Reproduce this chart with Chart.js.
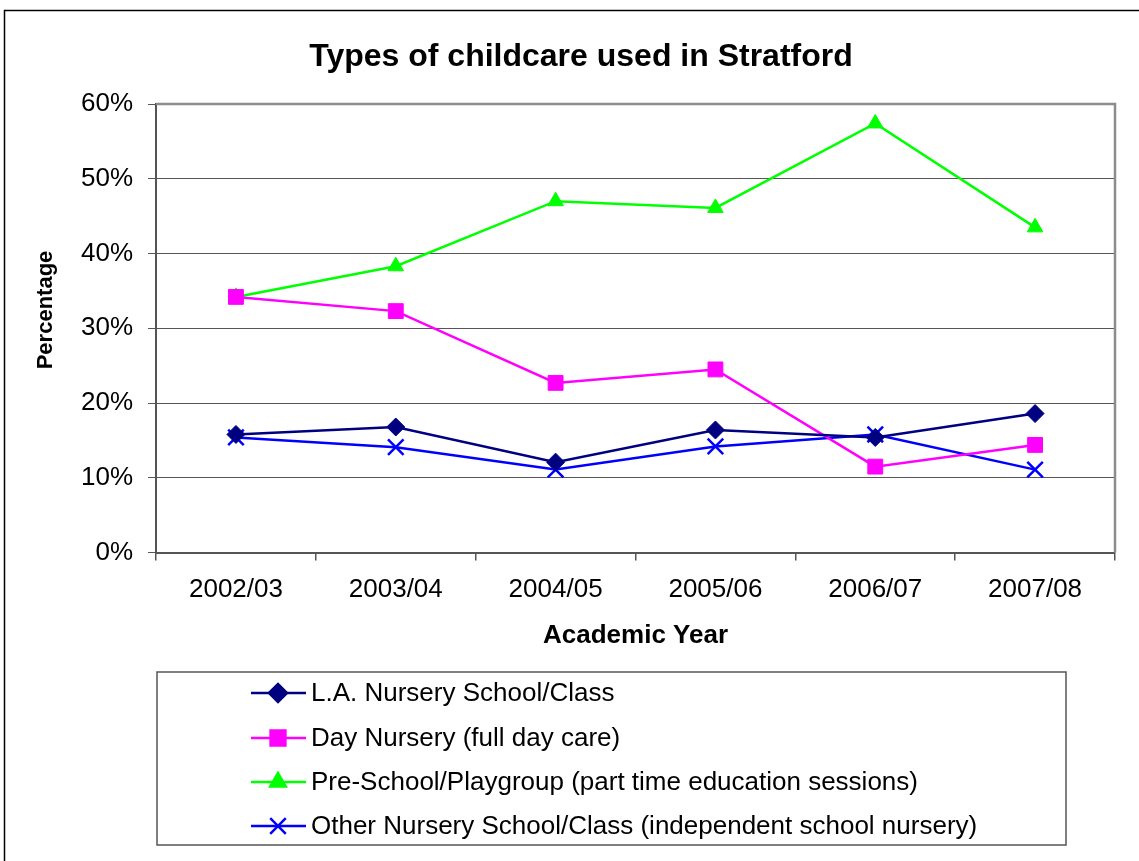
<!DOCTYPE html>
<html>
<head>
<meta charset="utf-8">
<title>Types of childcare used in Stratford</title>
<script src="https://cdn.jsdelivr.net/npm/chart.js@4"></script>
<style>
    html, body { margin: 0; padding: 0; background: #fff; }
    #wrap { width: 1139px; height: 861px; position: relative; }
</style>
</head>
<body>
<div id="wrap"><canvas id="chart"></canvas></div>
<script>
// Chart data
const years = ['2002/03', '2003/04', '2004/05', '2005/06', '2006/07', '2007/08'];
const laNursery = [15.8, 16.8, 12.1, 16.4, 15.4, 18.6];
const dayNursery = [34.2, 32.3, 22.7, 24.5, 11.5, 14.4];
const preSchool = [34.2, 38.3, 47.0, 46.1, 57.4, 43.5];
const otherNursery = [15.4, 14.1, 11.1, 14.2, 15.8, 11.1];
const yTicks = [0, 10, 20, 30, 40, 50, 60];

const chartTitle = 'Types of childcare used in Stratford';
const yTitle = 'Percentage';

const FONT = "'Liberation Sans', Arial, sans-serif";

/**
 * Outer frame, titles, plot border (top/right) and the boxed legend under the chart
 */
const decorPlugin = {
    id: 'decor',
    beforeDraw(chart) {
        const ctx = chart.ctx;
        ctx.save();
        ctx.fillStyle = '#fff';
        ctx.fillRect(0, 0, chart.width, chart.height);
        ctx.strokeStyle = '#000';
        ctx.lineWidth = 1.5;
        ctx.strokeRect(4.5, 10.5, chart.width + 20, chart.height + 20);

        // chart title
        ctx.fillStyle = '#000';
        ctx.font = 'bold 32px ' + FONT;
        ctx.textAlign = 'center';
        ctx.textBaseline = 'alphabetic';
        ctx.fillText(chartTitle, 581, 65.5);

        // y axis title, placed as in the original (a bit above centre)
        ctx.font = 'bold 22px ' + FONT;
        ctx.textBaseline = 'middle';
        ctx.translate(45.5, 310);
        ctx.rotate(-Math.PI / 2);
        ctx.fillText(yTitle, 0, 0);
        ctx.restore();
    },
    afterDatasetsDraw(chart) {
        const ctx = chart.ctx;
        const area = chart.chartArea;
        ctx.save();
        // plot area border top and right
        ctx.strokeStyle = '#8c8c8c';
        ctx.lineWidth = 2.5;
        ctx.beginPath();
        ctx.moveTo(area.left, area.top);
        ctx.lineTo(area.right, area.top);
        ctx.lineTo(area.right, area.bottom);
        ctx.stroke();

        // legend box
        ctx.strokeStyle = '#555';
        ctx.lineWidth = 1.5;
        ctx.strokeRect(157, 672, 909, 173);

        const rows = [693, 738, 782, 826];
        ctx.font = '26px ' + FONT;
        ctx.textBaseline = 'middle';
        ctx.textAlign = 'left';
        chart.data.datasets.forEach((ds, i) => {
            const y = rows[i];
            ctx.strokeStyle = ds.borderColor;
            ctx.fillStyle = ds.pointBackgroundColor;
            ctx.lineWidth = 2.5;
            ctx.beginPath();
            ctx.moveTo(251, y);
            ctx.lineTo(306, y);
            ctx.stroke();
            ctx.strokeStyle = ds.pointBorderColor;
            Chart.helpers.drawPoint(ctx, {
                pointStyle: ds.pointStyle,
                radius: ds.pointRadius,
                rotation: 0,
                borderWidth: ds.pointBorderWidth
            }, 278, y);
            ctx.fillStyle = '#000';
            ctx.fillText(ds.label, 311, y + 1);
        });
        ctx.restore();
    }
};

function makeSeries(label, data, color, style, radius) {
    return {
        label: label,
        data: data,
        borderColor: color,
        backgroundColor: color,
        pointBackgroundColor: color,
        pointBorderColor: color,
        pointBorderWidth: style === 'crossRot' ? 2.5 : 1,
        pointStyle: style,
        pointRadius: radius,
        pointHoverRadius: radius,
        borderWidth: 2.5,
        tension: 0,
        fill: false
    };
}

document.addEventListener('DOMContentLoaded', function() {
    const ctx = document.getElementById('chart').getContext('2d');
    new Chart(ctx, {
        type: 'line',
        data: {
            labels: years,
            datasets: [
                makeSeries('L.A. Nursery School/Class', laNursery, '#000080', 'rectRot', 9),
                makeSeries('Day Nursery (full day care)', dayNursery, '#ff00ff', 'rect', 10.5),
                makeSeries('Pre-School/Playgroup (part time education sessions)', preSchool, '#00ff00', 'triangle', 9),
                makeSeries('Other Nursery School/Class (independent school nursery)', otherNursery, '#0000ff', 'crossRot', 11)
            ]
        },
        options: {
            responsive: true,
            maintainAspectRatio: false,
            animation: false,
            events: [],
            layout: {
                padding: { left: 66, right: 24, top: 104, bottom: 210 }
            },
            plugins: {
                legend: { display: false },
                tooltip: { enabled: false },
                title: { display: false }
            },
            scales: {
                x: {
                    offset: true,
                    grid: {
                        offset: true,
                        drawOnChartArea: false,
                        drawTicks: true,
                        tickLength: 8,
                        color: '#555',
                        lineWidth: 1.5
                    },
                    border: { color: '#555', width: 2 },
                    ticks: {
                        color: '#000',
                        font: { family: FONT, size: 26 },
                        padding: 14,
                        maxRotation: 0
                    },
                    title: {
                        display: true,
                        text: 'Academic Year',
                        color: '#000',
                        font: { family: FONT, size: 26, weight: 'bold' },
                        padding: { top: 0, bottom: 0 }
                    }
                },
                y: {
                    min: yTicks[0],
                    max: yTicks[yTicks.length - 1],
                    afterBuildTicks(axis) {
                        axis.ticks = yTicks.map(v => ({ value: v }));
                    },
                    grid: {
                        color: '#555',
                        lineWidth: 1,
                        tickLength: 8
                    },
                    border: { color: '#555', width: 2 },
                    ticks: {
                        color: '#000',
                        font: { family: FONT, size: 26 },
                        padding: 15,
                        callback: v => v + '%'
                    }
                }
            }
        },
        plugins: [decorPlugin]
    });
});
</script>
</body>
</html>
